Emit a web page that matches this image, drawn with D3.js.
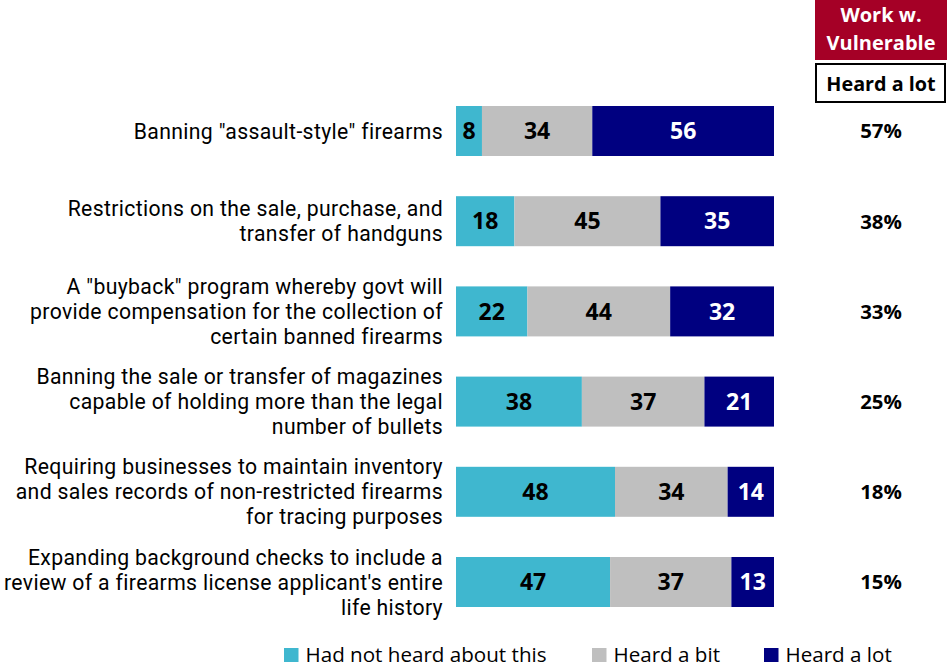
<!DOCTYPE html>
<html>
<head>
<meta charset="utf-8">
<script src="https://cdn.jsdelivr.net/npm/d3@7"></script>
<style>
  html, body { margin: 0; padding: 0; background: #fff; }
  svg { display: block; font-family: "Open Sans", "Noto Sans", sans-serif; }
</style>
</head>
<body>
<svg id="chart" width="948" height="667"></svg>
<script>
// Awareness of firearms measures, share of respondents by level of awareness
const categories = [
  ["Banning \"assault-style\" firearms"],
  ["Restrictions on the sale, purchase, and", "transfer of handguns"],
  ["A \"buyback\" program whereby govt will", "provide compensation for the collection of", "certain banned firearms"],
  ["Banning the sale or transfer of magazines", "capable of holding more than the legal", "number of bullets"],
  ["Requiring businesses to maintain inventory", "and sales records of non-restricted firearms", "for tracing purposes"],
  ["Expanding background checks to include a", "review of a firearms license applicant's entire", "life history"]
];
const seriesNames = ["Had not heard about this", "Heard a bit", "Heard a lot"];
const notHeard = [8, 18, 22, 38, 48, 47];
const heardBit = [34, 45, 44, 37, 34, 37];
const heardLot = [56, 35, 32, 21, 14, 13];
const vulnerableHeardLot = [57, 38, 33, 25, 18, 15];
const colors = ["#3fb7cf", "#bfbfbf", "#000080"];
const labelColors = ["#000", "#000", "#fff"];

const rows = categories.map((c, i) => ({
  idx: i, "0": notHeard[i], "1": heardBit[i], "2": heardLot[i]
}));

const svg = d3.select("#chart");

const x = d3.scaleLinear().domain([0, 1]).range([456, 774]);
const y = d3.scaleBand().domain(d3.range(categories.length))
  .range([106, 607]).paddingInner(0.4457).paddingOuter(0);

// bars are shown as shares of each row's total (100% stacked)
const stack = d3.stack().keys(["0", "1", "2"]).offset(d3.stackOffsetExpand);
const layers = stack(rows);

const g = svg.append("g");
layers.forEach((layer, k) => {
  const lg = g.append("g");
  lg.selectAll("rect").data(layer).join("rect")
    .attr("x", d => x(d[0]))
    .attr("y", d => y(d.data.idx))
    .attr("width", d => x(d[1]) - x(d[0]))
    .attr("height", y.bandwidth())
    .attr("fill", colors[k]);
  lg.selectAll("text").data(layer).join("text")
    .attr("x", d => (x(d[0]) + x(d[1])) / 2)
    .attr("y", d => y(d.data.idx) + y.bandwidth() / 2)
    .attr("dy", "0.36em")
    .attr("text-anchor", "middle")
    .attr("font-size", 23)
    .attr("font-weight", 700)
    .attr("fill", labelColors[k])
    .text(d => d.data[String(k)]);
});

// category labels, right-aligned beside the bars, one text per line
const cat = svg.append("g")
  .style("font-family", "Roboto, 'Open Sans', sans-serif")
  .attr("font-size", 21.2)
  .attr("letter-spacing", 0.35)
  .attr("text-anchor", "end")
  .attr("fill", "#000");
categories.forEach((lines, i) => {
  const cy = y(i) + y.bandwidth() / 2;
  lines.forEach((ln, j) => {
    cat.append("text")
      .attr("x", 443)
      .attr("y", cy + (j - (lines.length - 1) / 2) * 25)
      .attr("dy", "0.36em")
      .text(ln);
  });
});

// right-hand column: subgroup value
svg.append("rect").attr("x", 815).attr("y", 0).attr("width", 132).attr("height", 60)
  .attr("fill", "#a50026");
svg.append("text").attr("x", 881).attr("y", 22).attr("text-anchor", "middle")
  .attr("font-size", 20).attr("font-weight", 700).attr("fill", "#fff").text("Work w.");
svg.append("text").attr("x", 881).attr("y", 50).attr("text-anchor", "middle")
  .attr("font-size", 20).attr("font-weight", 700).attr("fill", "#fff").text("Vulnerable");
svg.append("rect").attr("x", 816).attr("y", 64).attr("width", 129).attr("height", 38)
  .attr("fill", "#fff").attr("stroke", "#000").attr("stroke-width", 2);
svg.append("text").attr("x", 881).attr("y", 91).attr("text-anchor", "middle")
  .attr("font-size", 19.8).attr("font-weight", 700).attr("fill", "#000").text("Heard a lot");

svg.append("g").selectAll("text").data(vulnerableHeardLot).join("text")
  .attr("x", 881)
  .attr("y", (d, i) => y(i) + y.bandwidth() / 2)
  .attr("dy", "0.36em")
  .attr("text-anchor", "middle")
  .attr("font-size", 20.4)
  .attr("font-weight", 700)
  .attr("fill", "#000")
  .text(d => d + "%");

// legend
const legendX = [284, 592, 764];
const lg = svg.append("g");
seriesNames.forEach((name, k) => {
  lg.append("rect").attr("x", legendX[k]).attr("y", 648).attr("width", 14.5).attr("height", 14)
    .attr("fill", colors[k]);
  lg.append("text").attr("x", legendX[k] + 21.5).attr("y", 662)
    .attr("font-size", 20.6).attr("fill", "#000").text(name);
});
</script>
</body>
</html>
